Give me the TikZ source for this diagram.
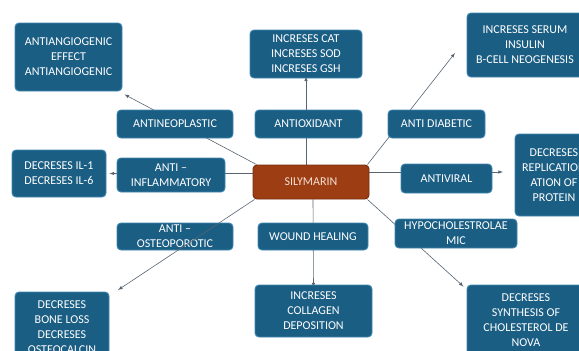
\documentclass[tikz,border=0pt]{standalone}
\usepackage{fontspec}
\setmainfont{Carlito}
\usetikzlibrary{backgrounds}
\tikzset{>=latex}
\definecolor{boxblue}{RGB}{27,94,132}
\definecolor{boxedge}{RGB}{64,136,178}
\definecolor{hubred}{RGB}{156,61,20}
\definecolor{hubedge}{RGB}{118,44,14}
\definecolor{hubtext}{RGB}{246,224,208}
\definecolor{linegray}{RGB}{88,100,112}
\tikzset{
  box/.style={draw=boxedge,line width=0.9pt,fill=boxblue,rounded corners=4pt,text=white,align=center,inner xsep=1pt,inner ysep=0pt,font=\fontsize{12}{15}\selectfont},
  hub/.style={box,draw=hubedge,fill=hubred,text=hubtext},
  link/.style={->,draw=linegray,line width=0.6pt}
}

\begin{document}
\begin{tikzpicture}[x=1pt,y=-1pt]
  \useasboundingbox (0,0) rectangle (579,351);
  % Boxes
  \node[hub,minimum width=116pt,minimum height=34pt] (sily) at (311,182) {SILYMARIN};
  \node[box,minimum width=107pt,minimum height=68pt] (angio) at (68.5,57) {ANTIANGIOGENIC\\EFFECT\\ANTIANGIOGENIC};
  \node[box,minimum width=116pt,minimum height=28pt] (neoplas) at (175,124) {ANTINEOPLASTIC};
  \node[box,minimum width=107pt,minimum height=28pt] (antiox) at (308.5,124) {ANTIOXIDANT};
  \node[box,minimum width=112pt,minimum height=48pt] (cat) at (306,54) {INCRESES CAT\\INCRESES SOD\\INCRESES GSH};
  \node[box,minimum width=116pt,minimum height=64pt] (serum) at (525,45) {INCRESES SERUM\\INSULIN\\B-CELL NEOGENESIS};
  \node[box,minimum width=97pt,minimum height=28pt] (diab) at (436.5,124) {ANTI DIABETIC};
  \node[box,minimum width=94pt,minimum height=47pt] (il) at (59,173.5) {DECRESES IL-1\\DECRESES IL-6};
  \node[box,minimum width=108pt,minimum height=34pt] (inflam) at (171,175) {ANTI --\\INFLAMMATORY};
  \node[box,minimum width=91pt,minimum height=29pt] (antivir) at (446.5,178.5) {ANTIVIRAL};
  \node[box,minimum width=78pt,minimum height=82pt] (repl) at (554,175) {DECRESES\\REPLICATION\\ATION OF\\PROTEIN};
  \node[box,minimum width=116pt,minimum height=27pt] (osteo) at (175,236.5) {ANTI --\\OSTEOPOROTIC};
  \node[box,minimum width=110pt,minimum height=27pt] (wound) at (313,236.5) {WOUND HEALING};
  \node[box,minimum width=122pt,minimum height=29pt] (hypo) at (456,233.5) {HYPOCHOLESTROLAE\\MIC};
  \node[box,minimum width=94pt,minimum height=70pt] (bone) at (62,327) {DECRESES\\BONE LOSS\\DECRESES\\OSTEOCALCIN};
  \node[box,minimum width=117pt,minimum height=52pt] (coll) at (313.5,311) {INCRESES\\COLLAGEN\\DEPOSITION};
  \node[box,minimum width=118pt,minimum height=70pt] (synth) at (526,320) {DECRESES\\SYNTHESIS OF\\CHOLESTEROL DE\\NOVA};
  \coordinate (diabtip) at (455,53);
  \coordinate (virtip) at (503,172);
  \coordinate (ostip) at (118,290);
  % Lines
  \begin{scope}[on background layer]
    \draw[link] ([xshift=4pt]sily.north west) -- ([shift={(2pt,-3pt)}]angio.south east);
    \draw[link] (sily.north -| cat) -- ([yshift=2pt]cat.south);
    \draw[link] ([xshift=-2pt]sily.north east) -- (diabtip);
    \draw[link] (sily.east |- virtip) -- (virtip);
    \draw[link] (sily.west |- il.east) -- ([xshift=3pt]il.east);
    \draw[link] ([xshift=2pt]sily.south) -- ([yshift=-3pt]coll.north);
    \draw[link] ([xshift=-2pt]sily.south east) -- ([shift={(-3pt,-2pt)}]synth.north west);
  \end{scope}
  \draw[link] ([xshift=2pt]sily.south west) -- (ostip);
\end{tikzpicture}
\end{document}
